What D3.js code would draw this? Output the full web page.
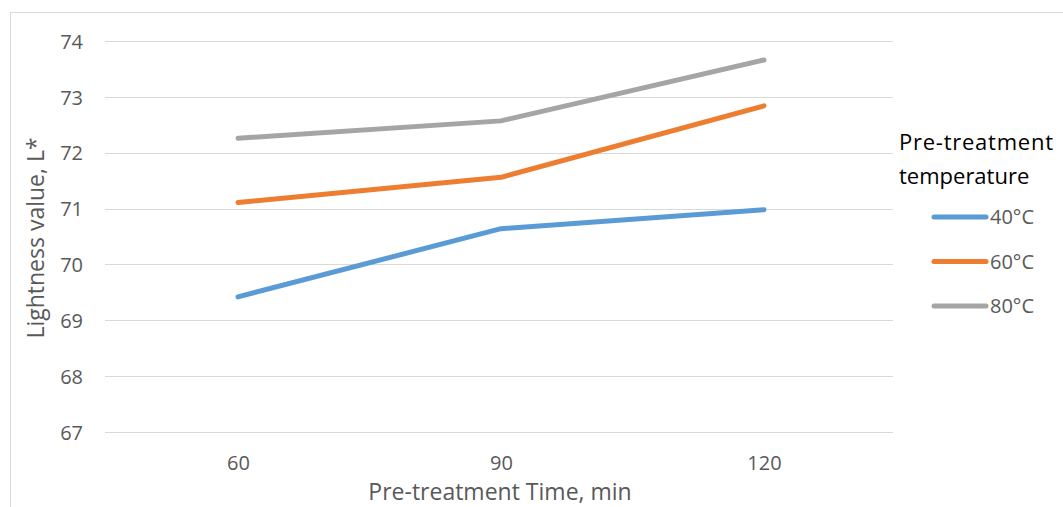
<!DOCTYPE html>
<html>
<head>
<meta charset="utf-8">
<script src="https://cdn.jsdelivr.net/npm/d3@7"></script>
<style>
  html, body { margin: 0; padding: 0; background: #fff; }
  svg { display: block; font-family: "Open Sans", sans-serif; }
</style>
</head>
<body>
<svg id="chart" width="1063" height="507"></svg>
<script>
// Pre-treatment time (min) on the x axis
const times = ["60", "90", "120"];
// Series: pre-treatment temperature
const seriesNames = ["40°C", "60°C", "80°C"];
const values40 = [69.42, 70.64, 70.98];
const values60 = [71.11, 71.56, 72.84];
const values80 = [72.26, 72.57, 73.66];
const yTicks = [67, 68, 69, 70, 71, 72, 73, 74];
const colors = ["#5B9BD5", "#ED7D31", "#A5A5A5"];

const series = [values40, values60, values80].map((v, i) => ({
  name: seriesNames[i],
  color: colors[i],
  points: times.map((t, j) => ({ t, v: v[j] }))
}));

const svg = d3.select("#chart");

// outer chart frame
svg.append("rect")
  .attr("x", 10.5).attr("y", 12.5)
  .attr("width", 1070).attr("height", 510)
  .attr("fill", "none").attr("stroke", "#d9d9d9").attr("stroke-width", 1);

const x = d3.scalePoint().domain(times).range([238, 764]);
const y = d3.scaleLinear().domain([67, 74]).range([432, 41]);

// horizontal gridlines
svg.append("g")
  .selectAll("line")
  .data(yTicks)
  .join("line")
  .attr("x1", 105).attr("x2", 893)
  .attr("y1", d => Math.round(y(d)) + 0.5)
  .attr("y2", d => Math.round(y(d)) + 0.5)
  .attr("stroke", "#d9d9d9").attr("stroke-width", 1);

// y axis tick labels
const yAxis = d3.axisLeft(y).tickValues(yTicks).tickFormat(d3.format("d")).tickSize(0).tickPadding(0);
svg.append("g")
  .attr("transform", "translate(83,0)")
  .call(yAxis)
  .call(g => g.select(".domain").remove())
  .call(g => g.selectAll("text")
    .attr("fill", "#595959")
    .attr("dy", "0.36em")
    .style("font-family", "'Open Sans', sans-serif")
    .style("font-size", "20px"));

// x axis tick labels
const xAxis = d3.axisBottom(x).tickSize(0).tickPadding(0);
svg.append("g")
  .attr("transform", "translate(0,470)")
  .call(xAxis)
  .call(g => g.select(".domain").remove())
  .call(g => g.selectAll("text")
    .attr("fill", "#595959")
    .attr("dy", "0")
    .style("font-family", "'Open Sans', sans-serif")
    .style("font-size", "20px"));

// axis titles
svg.append("text")
  .attr("x", 500).attr("y", 500)
  .attr("text-anchor", "middle")
  .attr("fill", "#595959")
  .style("font-size", "23px")
  .text("Pre-treatment Time, min");

svg.append("text")
  .attr("transform", "translate(44,238) rotate(-90)")
  .attr("text-anchor", "middle")
  .attr("fill", "#595959")
  .style("font-size", "23px")
  .text("Lightness value, L*");

// series lines
const line = d3.line().x(d => x(d.t)).y(d => y(d.v));
svg.append("g")
  .selectAll("path")
  .data(series)
  .join("path")
  .attr("d", d => line(d.points))
  .attr("fill", "none")
  .attr("stroke", d => d.color)
  .attr("stroke-width", 5)
  .attr("stroke-linecap", "round")
  .attr("stroke-linejoin", "round");

// legend
const legend = svg.append("g");
legend.append("text")
  .attr("x", 899).attr("y", 150)
  .attr("fill", "#000")
  .style("font-size", "22px")
  .attr("textLength", 154)
  .text("Pre-treatment");
legend.append("text")
  .attr("x", 899).attr("y", 184)
  .attr("fill", "#000")
  .style("font-size", "22px")
  .text("temperature");

const items = legend.selectAll("g.item")
  .data(series)
  .join("g")
  .attr("class", "item")
  .attr("transform", (d, i) => `translate(0,${217 + i * 44.5})`);
items.append("line")
  .attr("x1", 934).attr("x2", 986)
  .attr("stroke", d => d.color)
  .attr("stroke-width", 5)
  .attr("stroke-linecap", "round");
items.append("text")
  .attr("x", 990).attr("y", 7)
  .attr("fill", "#595959")
  .style("font-size", "20px")
  .text(d => d.name);
</script>
</body>
</html>
